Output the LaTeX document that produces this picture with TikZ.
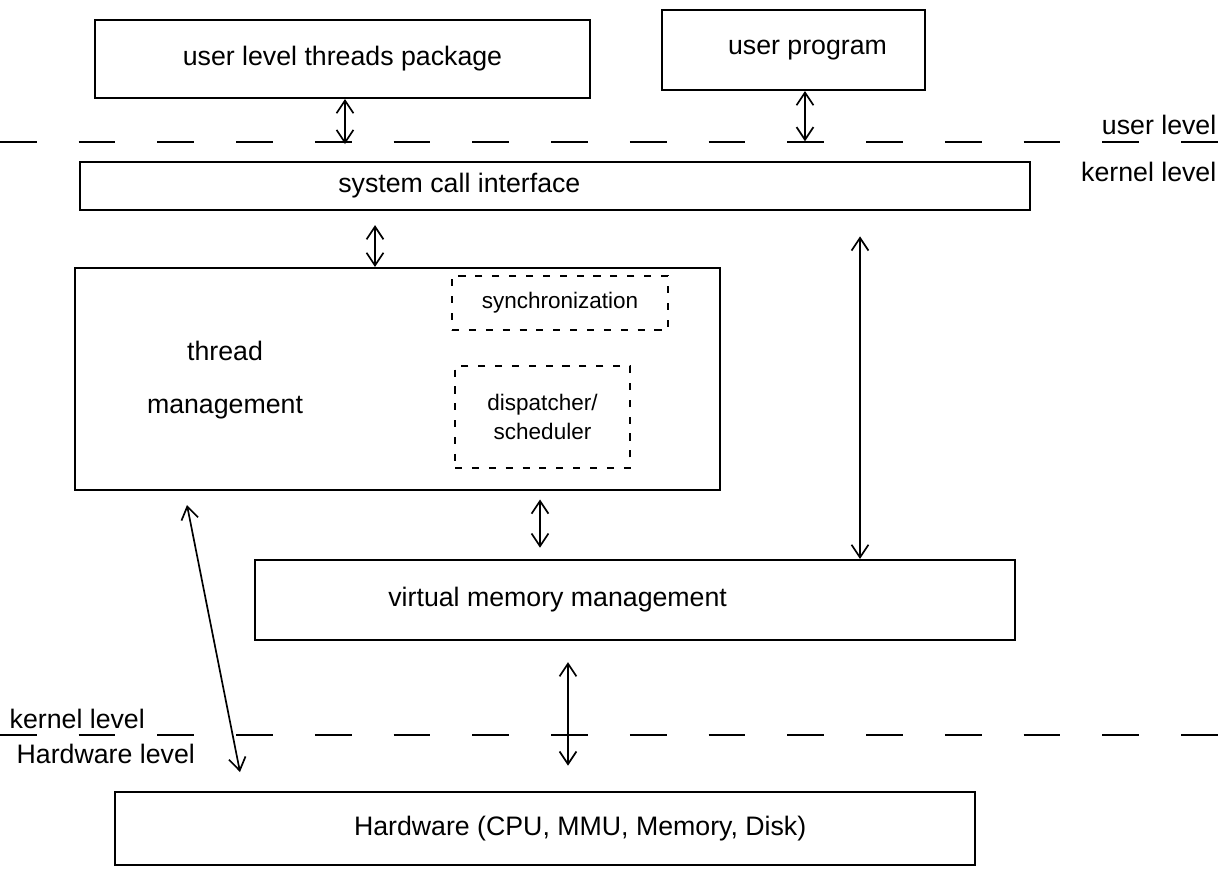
\documentclass[tikz,border=0pt]{standalone}
\usepackage{fontspec}
\setmainfont{Liberation Sans}
\usetikzlibrary{arrows.meta,fit}
\begin{document}
\begin{tikzpicture}[x=0.025cm,y=-0.025cm,
  every node/.style={font=\fontsize{19}{24}\selectfont},
  box/.style={draw, line width=1.5pt, inner sep=0pt},
  dbox/.style={draw, line width=1.3pt, dash pattern=on 5pt off 7pt, inner sep=0pt},
  small/.style={font=\fontsize{16}{20}\selectfont, align=center},
  dline/.style={line width=1.5pt, dash pattern=on 26pt off 30pt},
  dbl/.style={line width=1.2pt, {Straight Barb[length=9pt,width=12pt]}-{Straight Barb[length=9pt,width=12pt]}},
  lab/.style={inner sep=1pt}]
\useasboundingbox (0,0) rectangle (1218,869);
\fill[white] (0,0) rectangle (1218,869);

% boxes
\node[box, fit={(95,20) (590,98)}, label=center:{user level threads package}] (pkg) {};
\node[box, fit={(662,10) (925,90)}, label={[xshift=10pt]center:{user program}}] (prog) {};
\node[box, fit={(80,162) (1030,210)}, label={[xshift=-68pt]center:{system call interface}}] (sci) {};
\node[box, fit={(75,268) (720,490)}] (tm) {};
\node[lab, align=center] (tmt) at (225,380) {thread\\[14pt]management};
\node[dbox, fit={(452,276) (668,330)}, label={[small]center:{synchronization}}] (sync) {};
\node[dbox, fit={(455,366) (630,468)}, label={[small]center:{dispatcher/\\scheduler}}] (disp) {};
\node[box, fit={(255,560) (1015,640)}, label={[xshift=-55pt]center:{virtual memory management}}] (vmm) {};
\node[box, fit={(115,792) (975,865)}, label={[xshift=25pt]center:{Hardware (CPU, MMU, Memory, Disk)}}] (hw) {};

% level separators
\coordinate (l1a) at (0,142);
\coordinate (l1b) at (1218,142);
\coordinate (l2a) at (0,735);
\coordinate (l2b) at (1218,735);
\draw[dline] (l1a) -- (l1b);
\draw[dline] (l2a) -- (l2b);

% level labels
\node[lab, anchor=south east] (ul) at (1218,136) {user level};
\node[lab, anchor=north east] (kl) at (1218,160) {kernel level};
\node[lab, anchor=south west] (kl2) at (8,730) {kernel level};
\node[lab, anchor=north west] (hl) at (15,742) {Hardware level};

% connectors
\coordinate (xa) at (345,0);
\coordinate (xb) at (805,0);
\coordinate (xc) at (375,0);
\coordinate (xd) at (540,0);
\coordinate (xe) at (860,0);
\coordinate (xf) at (568,0);
\coordinate (t1) at (187,505);
\coordinate (t2) at (240,772);
\draw[dbl] (pkg.south -| xa) -- ([yshift=12pt]sci.north -| xa);
\draw[dbl] (prog.south -| xb) -- ([yshift=14pt]sci.north -| xb);
\draw[dbl] ([yshift=-10pt]sci.south -| xc) -- (tm.north -| xc);
\draw[dbl] ([yshift=-6pt]tm.south -| xd) -- ([yshift=8pt]vmm.north -| xd);
\draw[dbl] ([yshift=-18pt]sci.south -| xe) -- (vmm.north -| xe);
\draw[dbl] ([yshift=-15pt]vmm.south -| xf) -- ([yshift=18pt]hw.north -| xf);
\draw[dbl] (t1) -- (t2);
\end{tikzpicture}
\end{document}
